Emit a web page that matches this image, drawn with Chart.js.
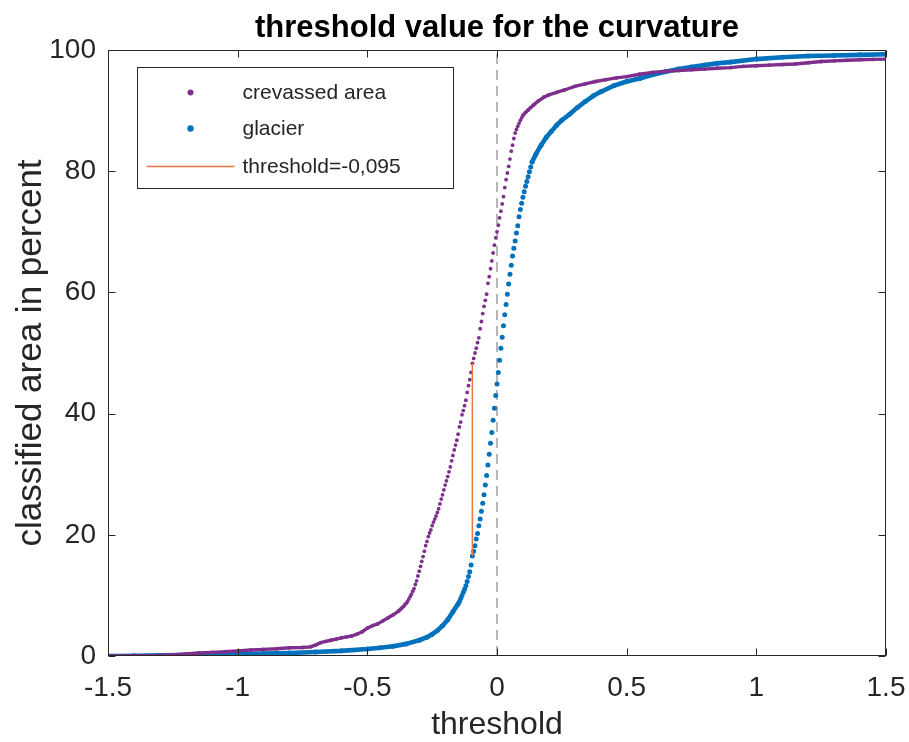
<!DOCTYPE html>
<html lang="en">
<head>
<meta charset="UTF-8">
<title>threshold value for the curvature</title>
<script src="https://cdn.jsdelivr.net/npm/chart.js"></script>
<style>
  html, body { margin: 0; padding: 0; background: #fff; }
  #wrap { width: 909px; height: 742px; }
</style>
</head>
<body>
<div id="wrap"><canvas id="chart"></canvas></div>
<script>
// ---- data ----
const crevassedX = [
  -1.5, -1.4, -1.3, -1.25, -1.2, -1.15, -1.1, -1.05, -1.0, -0.95,
  -0.9, -0.85, -0.8, -0.75, -0.72, -0.7, -0.68, -0.66, -0.64, -0.62,
  -0.6, -0.58, -0.56, -0.54, -0.52, -0.5, -0.48, -0.46, -0.44, -0.42,
  -0.4, -0.38,
  -0.375, -0.37, -0.365, -0.36, -0.355, -0.35, -0.345, -0.34, -0.335, -0.33,
  -0.325, -0.32, -0.315, -0.31, -0.305, -0.3, -0.295, -0.29, -0.285, -0.28,
  -0.275, -0.27, -0.265, -0.26, -0.255, -0.25, -0.245, -0.24, -0.235, -0.23,
  -0.225, -0.22, -0.215, -0.21, -0.205, -0.2, -0.195, -0.19, -0.185, -0.18,
  -0.175, -0.17, -0.165, -0.16, -0.155, -0.15, -0.145, -0.14, -0.135, -0.13,
  -0.125, -0.12, -0.115, -0.11, -0.105, -0.1, -0.095, -0.09, -0.085, -0.08,
  -0.075, -0.07, -0.065, -0.06, -0.055, -0.05, -0.045, -0.04, -0.035, -0.03,
  -0.025, -0.02, -0.015, -0.01, -0.005, 0, 0.005, 0.01, 0.015, 0.02,
  0.025, 0.03, 0.035, 0.04, 0.045, 0.05, 0.055, 0.06, 0.065, 0.07,
  0.075, 0.08, 0.085, 0.09, 0.095, 0.1,
  0.11, 0.12, 0.13, 0.14, 0.16, 0.18, 0.2, 0.23, 0.26, 0.3,
  0.34, 0.38, 0.42, 0.46, 0.5, 0.55, 0.6, 0.65, 0.7, 0.75,
  0.8, 0.85, 0.9, 0.95, 1.0, 1.05, 1.1, 1.15, 1.2, 1.25,
  1.3, 1.35, 1.4, 1.45, 1.5
];
const crevassedY = [
  0, 0.05, 0.1, 0.2, 0.35, 0.5, 0.6, 0.7, 0.85, 1.0,
  1.1, 1.2, 1.35, 1.4, 1.5, 1.8, 2.2, 2.4, 2.6, 2.8,
  3.0, 3.15, 3.3, 3.6, 4.0, 4.6, 5.0, 5.3, 5.8, 6.3,
  6.8, 7.4,
  7.6, 7.8, 8.0, 8.2, 8.5, 8.7, 9.0, 9.4, 9.8, 10.2,
  10.7, 11.1, 11.8, 12.4, 13.2, 14.0, 14.8, 15.6, 16.4, 17.3,
  18.2, 18.9, 19.7, 20.3, 20.8, 21.5, 22.1, 22.6, 23.1, 23.7,
  24.3, 25.1, 25.9, 26.6, 27.4, 28.2, 28.9, 29.6, 30.4, 31.2,
  32.2, 33.1, 34.0, 34.8, 35.6, 36.6, 37.8, 38.6, 39.8, 40.5,
  41.3, 42.2, 43.5, 44.6, 45.6, 46.8, 48.3, 49.1, 50.0, 50.8,
  51.7, 52.5, 54.0, 55.2, 56.5, 57.7, 58.7, 59.7, 61.5, 62.6,
  63.9, 65.2, 66.5, 67.8, 69.0, 70.0, 71.1, 72.3, 73.4, 74.6,
  75.8, 77.3, 78.6, 79.7, 80.8, 82.0, 83.3, 84.3, 85.4, 86.3,
  86.9, 87.4, 87.9, 88.4, 88.8, 89.2,
  89.7, 90.1, 90.5, 90.9, 91.6, 92.2, 92.6, 93.0, 93.4, 94.0,
  94.4, 94.8, 95.1, 95.4, 95.6, 96.0, 96.3, 96.5, 96.6, 96.75,
  96.85, 97.0, 97.1, 97.3, 97.4, 97.5, 97.6, 97.7, 97.9, 98.1,
  98.2, 98.3, 98.4, 98.45, 98.5
];

const glacierX = [
  -1.5, -1.4, -1.3, -1.2, -1.1, -1.0, -0.9, -0.8, -0.7, -0.6,
  -0.5, -0.45, -0.4, -0.35, -0.3, -0.27, -0.25, -0.23, -0.21, -0.19,
  -0.17, -0.15,
  -0.145, -0.14, -0.135, -0.13, -0.125, -0.12, -0.115, -0.11, -0.105, -0.1,
  -0.095, -0.09, -0.085, -0.08, -0.075, -0.07, -0.065, -0.06, -0.055, -0.05,
  -0.045, -0.04, -0.035, -0.03, -0.025, -0.02, -0.015, -0.01, -0.005, 0,
  0.005, 0.01, 0.015, 0.02, 0.025, 0.03, 0.035, 0.04, 0.045, 0.05,
  0.055, 0.06, 0.065, 0.07, 0.075, 0.08, 0.085, 0.09, 0.095, 0.1,
  0.105, 0.11, 0.115, 0.12, 0.125, 0.13, 0.135,
  0.15, 0.17, 0.19, 0.21, 0.23, 0.25, 0.28, 0.31, 0.34, 0.37,
  0.4, 0.45, 0.5, 0.55, 0.6, 0.65, 0.7, 0.75, 0.8, 0.85,
  0.9, 1.0, 1.1, 1.2, 1.3, 1.4, 1.5
];
const glacierY = [
  0, 0.05, 0.1, 0.15, 0.2, 0.3, 0.4, 0.5, 0.65, 0.85,
  1.15, 1.35, 1.6, 2.0, 2.6, 3.1, 3.6, 4.2, 5.0, 6.0,
  7.3, 8.6,
  9.0, 9.5, 10.0, 10.5, 11.0, 11.6, 12.3, 13.1, 13.9, 15.0,
  16.5, 17.3, 18.2, 19.3, 20.2, 21.5, 22.6, 23.9, 25.2, 26.6,
  28.2, 29.8, 31.5, 33.3, 35.1, 36.9, 38.9, 40.9, 43.0, 44.9,
  46.8, 48.8, 50.8, 52.6, 54.5, 56.3, 58.0, 59.7, 61.4, 63.0,
  64.5, 66.0, 67.3, 68.5, 69.8, 71.0, 72.5, 73.7, 74.7, 75.7,
  76.6, 77.5, 78.3, 79.1, 79.9, 80.7, 81.5,
  82.8, 84.3, 85.6, 86.6, 87.6, 88.4, 89.4, 90.5, 91.5, 92.4,
  93.1, 94.1, 94.8, 95.3, 95.9, 96.4, 96.85, 97.2, 97.5, 97.8,
  98.0, 98.5, 98.8, 99.0, 99.1, 99.2, 99.3
];

const thresholdValue = -0.095;
const thresholdLow = 16.5;   // glacier curve at the threshold
const thresholdHigh = 48.3;  // crevassed curve at the threshold

const xTicks = [-1.5, -1, -0.5, 0, 0.5, 1, 1.5];
const xTickLabels = ['-1.5', '-1', '-0.5', '0', '0.5', '1', '1.5'];
const yTicks = [0, 20, 40, 60, 80, 100];
const yTickLabels = ['0', '20', '40', '60', '80', '100'];

const titleText = 'threshold value for the curvature';
const legendLabels = ['crevassed area', 'glacier', 'threshold=-0,095'];

// ---- styling ----
const PURPLE = '#7E2F8E';
const BLUE = '#0072BD';
const ORANGE = '#EA7A45';
const AXIS = '#262626';
const FONT = "'Liberation Sans', Arial, Helvetica, sans-serif";

Chart.defaults.font.family = FONT;
Chart.defaults.color = AXIS;

function zip(xs, ys) {
  return xs.map((x, i) => ({ x: x, y: ys[i] }));
}

// join neighbouring markers into a solid trace only where the points are
// sparse (the original has so many markers there that they merge)
function mergeWhereDense(color) {
  return ctx => (ctx.p1.x - ctx.p0.x > 2 ? color : 'rgba(0,0,0,0)');
}

const matlabAxes = {
  id: 'matlabAxes',
  afterDraw(chart) {
    const { ctx, chartArea: a, scales } = chart;
    ctx.save();

    // frame and inward ticks on all four sides
    ctx.strokeStyle = AXIS;
    ctx.lineWidth = 1;
    const L = Math.round(a.left) + 0.5, R = Math.round(a.right) - 0.5;
    const T = Math.round(a.top) + 0.5, B = Math.round(a.bottom) - 0.5;
    ctx.strokeRect(L, T, R - L, B - T);
    ctx.beginPath();
    xTicks.forEach(v => {
      const px = Math.round(scales.x.getPixelForValue(v)) + 0.5;
      ctx.moveTo(px, B); ctx.lineTo(px, B - 7);
      ctx.moveTo(px, T); ctx.lineTo(px, T + 7);
    });
    yTicks.forEach(v => {
      const py = Math.round(scales.y.getPixelForValue(v)) + 0.5;
      ctx.moveTo(L, py); ctx.lineTo(L + 7, py);
      ctx.moveTo(R, py); ctx.lineTo(R - 7, py);
    });
    ctx.stroke();

    // title
    ctx.fillStyle = '#000';
    ctx.font = 'bold 31px ' + FONT;
    ctx.textAlign = 'center';
    ctx.textBaseline = 'middle';
    ctx.fillText(titleText, (a.left + a.right) / 2, 28);

    // legend box
    const bx = Math.round(a.left) + 29.5, by = Math.round(a.top) + 17.5;
    const bw = 316, bh = 121;
    ctx.fillStyle = '#fff';
    ctx.fillRect(bx, by, bw, bh);
    ctx.strokeStyle = AXIS;
    ctx.strokeRect(bx, by, bw, bh);

    const rows = [by + 25, by + 61, by + 99];
    ctx.fillStyle = PURPLE;
    ctx.beginPath(); ctx.arc(bx + 53, rows[0], 3, 0, Math.PI * 2); ctx.fill();
    ctx.fillStyle = BLUE;
    ctx.beginPath(); ctx.arc(bx + 53, rows[1], 3.2, 0, Math.PI * 2); ctx.fill();
    ctx.strokeStyle = ORANGE;
    ctx.lineWidth = 1.5;
    ctx.beginPath(); ctx.moveTo(bx + 9, rows[2]); ctx.lineTo(bx + 97, rows[2]); ctx.stroke();

    ctx.fillStyle = AXIS;
    ctx.font = '21px ' + FONT;
    ctx.textAlign = 'left';
    ctx.textBaseline = 'middle';
    legendLabels.forEach((t, i) => ctx.fillText(t, bx + 105, rows[i] + 1));

    ctx.restore();
  }
};

new Chart(document.getElementById('chart'), {
  type: 'scatter',
  data: {
    datasets: [
      {
        label: 'threshold',
        data: [{ x: thresholdValue, y: thresholdLow }, { x: thresholdValue, y: thresholdHigh }],
        showLine: true,
        borderColor: ORANGE,
        borderWidth: 1.5,
        pointRadius: 0,
        order: 0
      },
      {
        label: legendLabels[0],
        data: zip(crevassedX, crevassedY),
        showLine: true,
        borderColor: PURPLE,
        borderWidth: 3.4,
        borderCapStyle: 'round',
        borderJoinStyle: 'round',
        segment: { borderColor: mergeWhereDense(PURPLE) },
        pointRadius: 1.9,
        pointBorderWidth: 0,
        pointBackgroundColor: PURPLE,
        order: 1
      },
      {
        label: legendLabels[1],
        data: zip(glacierX, glacierY),
        showLine: true,
        borderColor: BLUE,
        borderWidth: 4.6,
        borderCapStyle: 'round',
        borderJoinStyle: 'round',
        segment: { borderColor: mergeWhereDense(BLUE) },
        pointRadius: 2.5,
        pointBorderWidth: 0,
        pointBackgroundColor: BLUE,
        order: 2
      },
      {
        label: 'zero',
        data: [{ x: 0, y: 0 }, { x: 0, y: 100 }],
        showLine: true,
        borderColor: 'rgba(38,38,38,0.55)',
        borderWidth: 1.2,
        borderDash: [10, 6],
        pointRadius: 0,
        order: 3
      }
    ]
  },
  options: {
    responsive: true,
    maintainAspectRatio: false,
    animation: false,
    layout: { padding: { top: 50, right: 23, left: 0, bottom: 0 } },
    plugins: {
      legend: { display: false },
      tooltip: { enabled: false },
      title: { display: false }
    },
    scales: {
      x: {
        type: 'linear',
        min: -1.5,
        max: 1.5,
        afterBuildTicks: s => { s.ticks = xTicks.map(v => ({ value: v })); },
        afterFit: s => { s.height = 86; s.paddingLeft = 0; s.paddingRight = 0; },
        grid: { display: false, drawTicks: false },
        border: { display: false },
        ticks: {
          padding: 15,
          color: AXIS,
          font: { size: 28 },
          maxRotation: 0,
          callback: v => xTickLabels[xTicks.indexOf(v)]
        },
        title: {
          display: true,
          text: 'threshold',
          color: AXIS,
          font: { size: 32 },
          padding: { top: 0, bottom: -2 }
        }
      },
      y: {
        type: 'linear',
        min: 0,
        max: 100,
        afterBuildTicks: s => { s.ticks = yTicks.map(v => ({ value: v })); },
        afterFit: s => { s.width = 108; s.paddingTop = 0; s.paddingBottom = 0; },
        grid: { display: false, drawTicks: false },
        border: { display: false },
        ticks: {
          padding: 12,
          color: AXIS,
          font: { size: 28 },
          callback: v => yTickLabels[yTicks.indexOf(v)]
        },
        title: {
          display: true,
          text: 'classified area in percent',
          color: AXIS,
          font: { size: 35 },
          padding: { top: 10, bottom: 0 }
        }
      }
    }
  },
  plugins: [matlabAxes]
});
</script>
</body>
</html>
